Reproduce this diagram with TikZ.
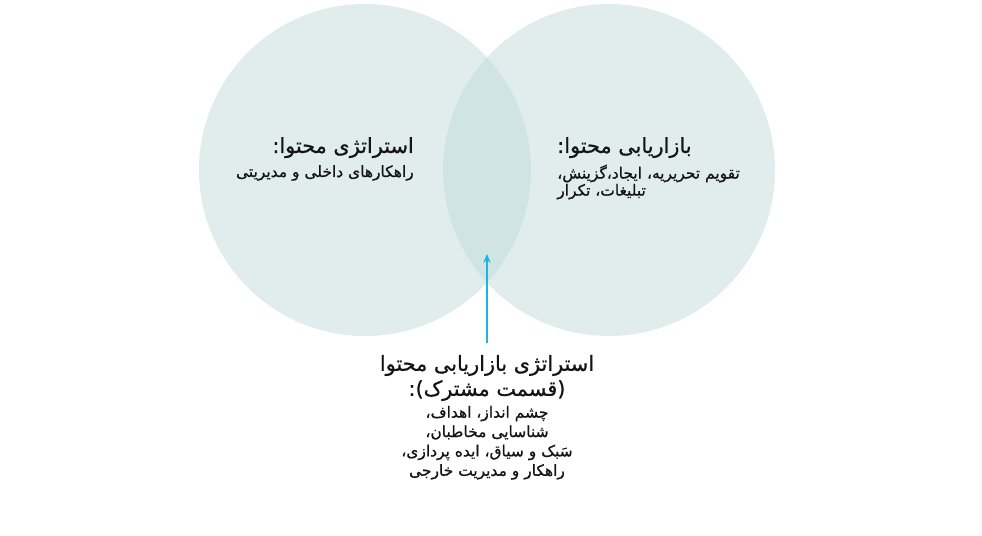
\documentclass[tikz,border=0pt]{standalone}
\usepackage{fontspec}
\usetikzlibrary{arrows.meta}
\newfontfamily\arabicfont[Script=Arabic,FakeBold=0.8]{DejaVu Sans}
\TeXXeTstate=1
\definecolor{vennfill}{RGB}{191,218,216}
\definecolor{pointerblue}{RGB}{28,180,228}
\definecolor{inktext}{RGB}{20,20,20}
\tikzset{
  venn/.style={fill=vennfill, fill opacity=0.48, draw=none},
  headtext/.style={font=\arabicfont\fontsize{14.8}{17.8}\selectfont, text=inktext, inner sep=0pt},
  listtext/.style={font=\arabicfont\fontsize{11}{13.8}\selectfont, text=inktext, inner sep=0pt},
}
\begin{document}
\begin{tikzpicture}
            \useasboundingbox (0.000000,0.000000) rectangle (24.550000,13.400000);
            
            % Drawing circle of strategy
            \fill [venn] (9.125000,9.150000) circle (4.150000);%
            
            % Drawing circle of marketing
            \fill [venn] (15.225000,9.150000) circle (4.150000);%
            
            % Marking left labels
            \node [headtext, anchor=east] (stratHead) at (10.350000,9.710000) {\beginR استراتژی محتوا:\endR};%
            \node [listtext, anchor=east] (stratList) at (10.350000,9.075000) {\beginR راهکارهای داخلی و مدیریتی\endR};%
            
            % Marking right labels
            \node [headtext, anchor=west] (markHead) at (13.925000,9.710000) {\beginR بازاریابی محتوا:\endR};%
            \node [listtext, anchor=north west, align=left, font=\arabicfont\fontsize{11}{12.2}\selectfont] (markList) at (13.925000,9.290000)
                  {\beginR تقویم تحریریه، ایجاد،گزینش،\endR\\\beginR تبلیغات، تکرار\endR};%
            
            % Marking shared labels
            \node [headtext, anchor=north, align=center] (sharedHead) at (12.175000,4.530000)
                  {\beginR استراتژی بازاریابی محتوا\endR\\\beginR (قسمت مشترک):\endR};%
            \node [listtext, anchor=north, align=center] (sharedList) at (12.175000,3.260000)
                  {\beginR چشم انداز، اهداف،\endR\\\beginR شناسایی مخاطبان،\endR\\\beginR سَبک و سیاق، ایده پردازی،\endR\\\beginR راهکار و مدیریت خارجی\endR};%
            
            % Drawing pointer to the overlap
            \coordinate (pointerFoot) at (12.175000,4.825000);%
            \coordinate (pointerTip) at (12.175000,7.050000);%
            \draw [pointerblue, line width=0.05cm, -{Stealth[length=0.22cm, width=0.18cm]}] (pointerFoot) -- (pointerTip);%
\end{tikzpicture}
\end{document}
